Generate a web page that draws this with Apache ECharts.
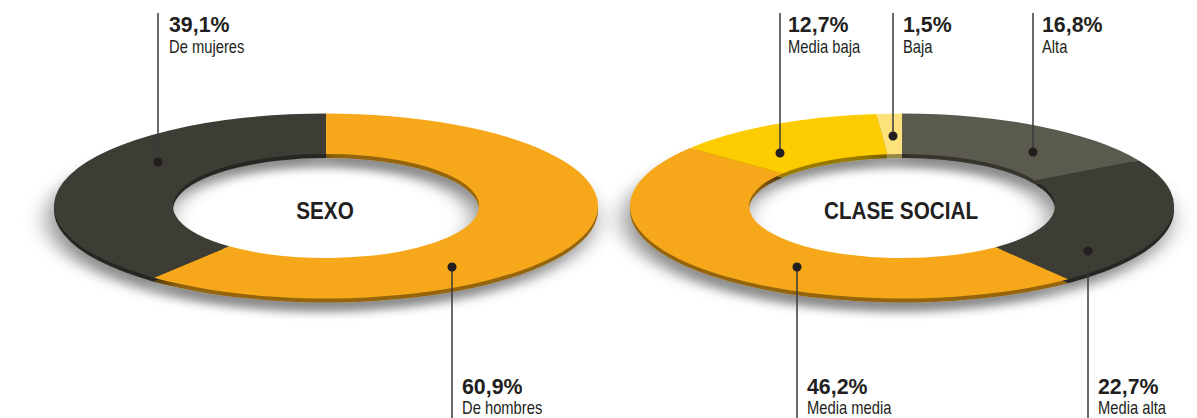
<!DOCTYPE html>
<html><head><meta charset="utf-8">
<script src="https://cdn.jsdelivr.net/npm/echarts@6/dist/echarts.min.js"></script>
<style>
html,body{margin:0;padding:0;background:#fff;overflow:hidden;}
#wrap{position:relative;width:1197px;height:418px;overflow:hidden;background:#fff;}
#pies{position:absolute;left:0;top:0;width:1197px;height:1230px;transform-origin:0 0;}
#labels{position:absolute;left:0;top:0;width:1197px;height:418px;pointer-events:none;}
</style></head><body>
<div id="wrap"><div id="pies"></div><div id="labels"></div></div>
<script>
// ---- data ----
const sexoTitle = 'SEXO';
const sexoCategories = ['De hombres', 'De mujeres'];
const sexoValues = [60.9, 39.1];

const claseTitle = 'CLASE SOCIAL';
const claseCategories = ['Alta', 'Media alta', 'Media media', 'Media baja', 'Baja'];
const claseValues = [16.8, 22.7, 46.2, 12.7, 1.5];

// ---- style / layout ----
const sexoColors = ['#F6A81A', '#3E3D35'];
const claseColors = ['#5B5A4F', '#3E3D35', '#F6A81A', '#FDCC00', '#FDE27C'];
const SY = 0.34;          // vertical squash (perspective)
const CY = 206;           // screen y of donut centres
const RI = 153, RO = 272; // radii
const THICK = 4;          // screen px of ring thickness
const CX_SEXO = 326, CX_CLASE = 902;

document.getElementById('pies').style.transform = 'scaleY(' + SY + ')';

function shade(hex, f) {
  const n = parseInt(hex.slice(1), 16);
  const r = Math.round(((n >> 16) & 255) * f), g = Math.round(((n >> 8) & 255) * f), b = Math.round((n & 255) * f);
  return 'rgb(' + r + ',' + g + ',' + b + ')';
}

function ring(cats, vals, colors, cx, dy, kind) {
  return {
    type: 'pie', silent: true, animation: false,
    startAngle: 90, clockwise: true,
    center: [cx, (CY + dy) / SY],
    radius: [RI, RO],
    label: { show: false }, labelLine: { show: false },
    emphasis: { disabled: true },
    itemStyle: kind === 'base'
      ? { borderWidth: 0, shadowBlur: 24, shadowColor: 'rgba(0,0,0,0.45)', shadowOffsetY: 28, shadowOffsetX: -5 }
      : { borderWidth: 0 },
    data: cats.map((c, i) => ({ name: c, value: vals[i],
      itemStyle: { color: kind === 'base' ? shade(colors[i], 0.6) : colors[i] } }))
  };
}

const pies = echarts.init(document.getElementById('pies'), null, { renderer: 'svg' });
pies.setOption({
  animation: false,
  series: [
    ring(sexoCategories, sexoValues, sexoColors, CX_SEXO, THICK, 'base'),
    ring(claseCategories, claseValues, claseColors, CX_CLASE, THICK, 'base'),
    ring(sexoCategories, sexoValues, sexoColors, CX_SEXO, 0, 'top'),
    ring(claseCategories, claseValues, claseColors, CX_CLASE, 0, 'top')
  ]
});

// ---- annotations (leader lines + labels) ----
const annotations = [
  { cats: sexoCategories, vals: sexoValues, idx: 1, x: 158, dotY: 162, dir: 'up', tx: 169 },
  { cats: sexoCategories, vals: sexoValues, idx: 0, x: 452, dotY: 267, dir: 'down', tx: 462 },
  { cats: claseCategories, vals: claseValues, idx: 3, x: 780, dotY: 153, dir: 'up', tx: 788 },
  { cats: claseCategories, vals: claseValues, idx: 4, x: 893, dotY: 136, dir: 'up', tx: 903 },
  { cats: claseCategories, vals: claseValues, idx: 0, x: 1033, dotY: 152, dir: 'up', tx: 1042 },
  { cats: claseCategories, vals: claseValues, idx: 2, x: 797, dotY: 267, dir: 'down', tx: 807 },
  { cats: claseCategories, vals: claseValues, idx: 1, x: 1088, dotY: 251, dir: 'down', tx: 1098 }
];
const fmt = v => v.toFixed(1).replace('.', ',') + '%';
const FONT = '"Liberation Sans", Arial, Helvetica, sans-serif';
const INK = '#231F20';

const els = [];
annotations.forEach(a => {
  const up = a.dir === 'up';
  const pctBase = up ? 32 : 394, nameBase = up ? 53 : 414;
  els.push({ type: 'line', shape: { x1: a.x, y1: up ? 13 : a.dotY, x2: a.x, y2: up ? a.dotY : 418 },
    style: { stroke: '#3a3a3a', lineWidth: 1.5 } });
  els.push({ type: 'circle', shape: { cx: a.x, cy: a.dotY, r: 4.5 }, style: { fill: INK } });
  els.push({ type: 'text', x: a.tx, y: pctBase - 0.35 * 22, scaleX: 0.97,
    style: { text: fmt(a.vals[a.idx]), font: 'bold 22px ' + FONT, fill: INK, textAlign: 'left', textVerticalAlign: 'middle' } });
  els.push({ type: 'text', x: a.tx, y: nameBase - 0.35 * 18, scaleX: 0.82,
    style: { text: a.cats[a.idx], font: '18px ' + FONT, fill: INK, textAlign: 'left', textVerticalAlign: 'middle' } });
});
[[sexoTitle, CX_SEXO - 1], [claseTitle, CX_CLASE - 1]].forEach(t => {
  els.push({ type: 'text', x: t[1], y: 211, scaleX: 0.9,
    style: { text: t[0], font: 'bold 23px ' + FONT, fill: INK, textAlign: 'center', textVerticalAlign: 'middle' } });
});

const labels = echarts.init(document.getElementById('labels'), null, { renderer: 'svg' });
labels.setOption({ animation: false, graphic: { elements: els } });
</script>
</body></html>
